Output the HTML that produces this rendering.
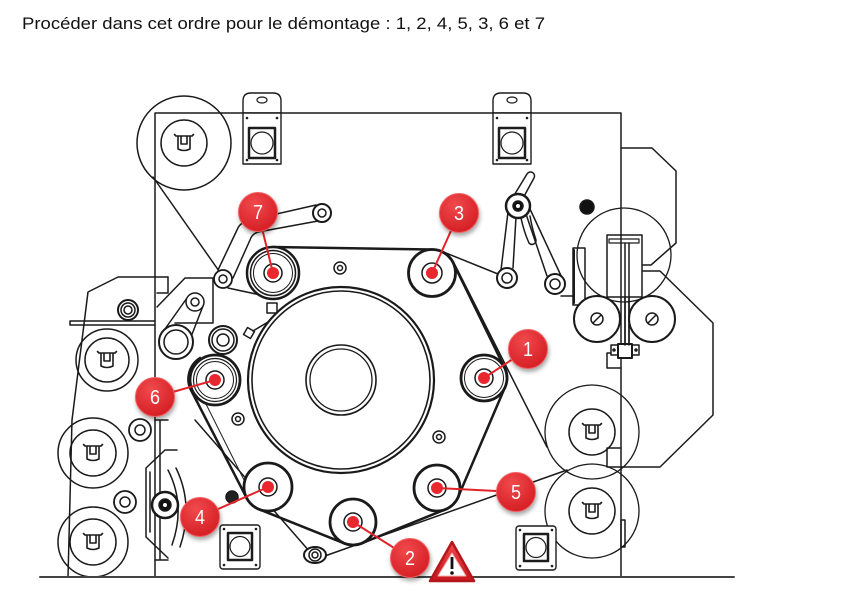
<!DOCTYPE html>
<html><head><meta charset="utf-8">
<style>
html,body{margin:0;padding:0;background:#fff;}
svg{display:block}
</style></head><body>
<svg width="856" height="598" viewBox="0 0 856 598" xmlns="http://www.w3.org/2000/svg">
<defs>
<radialGradient id="rg" cx="40%" cy="30%" r="75%">
 <stop offset="0" stop-color="#f04a4d"/>
 <stop offset="1" stop-color="#d41c22"/>
</radialGradient>
<linearGradient id="tg" x1="0" y1="0" x2="0" y2="1">
 <stop offset="0" stop-color="#f0494b"/>
 <stop offset="1" stop-color="#c8161c"/>
</linearGradient>
<filter id="bl" x="-50%" y="-50%" width="200%" height="200%"><feGaussianBlur stdDeviation="2"/></filter>
<g id="bk" fill="none" stroke="#1c1c1c" stroke-width="1.6">
 <path d="M-8,-7 H8 M-8,-7 l-1.5,-1.5 M8,-7 l1.5,-1.5 M-6,-7 V6 Q0,9 6,6 V-7 M-3,-7 V1 H3 V-7"/>
</g>
<g id="brT" fill="none" stroke="#1c1c1c">
 <path d="M0,20 V8 Q0,0 8,0 H30 Q38,0 38,8 V20" stroke-width="1.4"/>
 <ellipse cx="19" cy="7" rx="5" ry="3" stroke-width="1.2"/>
 <rect x="0" y="20" width="38" height="51" stroke-width="1.4" fill="#fff"/>
 <circle cx="4" cy="25" r="1.3" fill="#1c1c1c" stroke="none"/>
 <circle cx="34" cy="25" r="1.3" fill="#1c1c1c" stroke="none"/>
 <circle cx="4" cy="67" r="1.3" fill="#1c1c1c" stroke="none"/>
 <circle cx="34" cy="67" r="1.3" fill="#1c1c1c" stroke="none"/>
 <rect x="6" y="35" width="26" height="30" stroke-width="2.5"/>
 <circle cx="19" cy="50" r="11" stroke-width="1.2"/>
</g>
<g id="brB" fill="none" stroke="#1c1c1c">
 <rect x="0" y="0" width="40" height="44" rx="3" stroke-width="1.4" fill="#fff"/>
 <circle cx="4" cy="4" r="1.3" fill="#1c1c1c" stroke="none"/>
 <circle cx="36" cy="4" r="1.3" fill="#1c1c1c" stroke="none"/>
 <circle cx="4" cy="40" r="1.3" fill="#1c1c1c" stroke="none"/>
 <circle cx="36" cy="40" r="1.3" fill="#1c1c1c" stroke="none"/>
 <rect x="8" y="8" width="24" height="27" stroke-width="2.5"/>
 <circle cx="20" cy="21.5" r="10" stroke-width="1.2"/>
</g>
</defs>

<rect width="856" height="598" fill="#fff"/>

<text x="22" y="29" font-family="Liberation Sans, sans-serif" font-size="17" fill="#111" textLength="523" lengthAdjust="spacingAndGlyphs">Procéder dans cet ordre pour le démontage : 1, 2, 4, 5, 3, 6 et 7</text>

<g fill="none" stroke="#1a1a1a" stroke-width="1.5" stroke-linecap="round" stroke-linejoin="round">
 <!-- frame -->
 <path d="M155,113 H621 M155,113 V577 M621,113 V577"/>

 <!-- top-left spool -->
 <circle cx="184" cy="143" r="47"/>
 <circle cx="184" cy="143" r="23"/>
 <use href="#bk" x="184" y="143"/>

 <!-- top brackets -->
 <use href="#brT" x="243" y="93"/>
 <use href="#brT" x="493" y="93"/>

 <!-- right module -->
 <path d="M621,148 H652 L676,171 V243 L651,265 H643"/>
 <path d="M643,271 H660 L713,323 V415 L660,467 H607 V448 H621"/>
 <path d="M621,353 H607 V368 H621"/>
 <rect x="621" y="520" width="4" height="27"/>
 <circle cx="624" cy="255" r="47" stroke-width="1.3"/>

 <!-- T bar -->
 <rect x="607" y="235" width="35" height="62"/>
 <rect x="609" y="239" width="30" height="4" stroke-width="1.2"/>
 <path d="M625,243 V345 M629,243 V345"/>
 <rect x="611" y="345" width="28" height="10" fill="#fff"/>
 <rect x="618" y="344" width="14" height="14" stroke-width="2" fill="#fff"/>
 <circle cx="614" cy="350" r="1" fill="#1c1c1c"/>
 <circle cx="636" cy="350" r="1" fill="#1c1c1c"/>

 <!-- plate -->
 <rect x="573" y="248" width="12" height="57"/>
 <path d="M574,250 V303" stroke-width="2"/>

 <!-- right rollers -->
 <circle cx="597" cy="319" r="23" stroke-width="2" fill="#fff"/>
 <circle cx="652" cy="319" r="23" stroke-width="2" fill="#fff"/>
 <path d="M625,297 V345 M629,297 V345"/>
 <circle cx="597" cy="319" r="6"/>
 <path d="M593,323 L601,315"/>
 <circle cx="652" cy="319" r="6"/>
 <path d="M648,323 L656,315"/>

 <!-- black dot -->
 <circle cx="587" cy="207" r="7" fill="#111"/>

 <!-- right arm -->
 <path d="M513,197 L527,174 A4,4 0 0 1 534,178 L522,200"/>
 <path d="M521,218 Q524,232 529,243 A4,4 0 0 0 536,240 Q532,228 530,216"/>
 <path d="M508,212 L501,270 M516,217 L513,268 M526,214 L547,276 M530,209 L563,280"/>
 <circle cx="518" cy="206" r="12" stroke-width="2.5" fill="#fff"/>
 <circle cx="518" cy="206" r="5" fill="#111"/>
 <circle cx="518" cy="206" r="2" fill="#fff" stroke="none"/>
 <circle cx="507" cy="278" r="10" stroke-width="2" fill="#fff"/>
 <circle cx="507" cy="278" r="5"/>
 <circle cx="555" cy="284" r="10" stroke-width="2" fill="#fff"/>
 <circle cx="555" cy="284" r="5"/>
 <path d="M561,296 H573"/>

 <!-- thin lines -->
 <path d="M441,251 L498,274"/>
 <path d="M455,265 L547,447"/>
 <path d="M153,177 L219,271"/>
 <path d="M228,288 L279,299"/>
 <path d="M195,420 L310,552"/>
 <path d="M322,557 L567,470"/>

 <!-- right lower spools -->
 <circle cx="592" cy="432" r="47" stroke-width="1.3"/>
 <circle cx="592" cy="432" r="23"/>
 <use href="#bk" x="592" y="432"/>
 <circle cx="592" cy="511" r="47" stroke-width="1.3"/>
 <circle cx="592" cy="511" r="23"/>
 <use href="#bk" x="592" y="511"/>

 <!-- bottom brackets -->
 <use href="#brB" x="220" y="525"/>
 <use href="#brB" x="516" y="526"/>

 <!-- drum -->
 <circle cx="341" cy="380" r="93" stroke-width="2.2"/>
 <circle cx="341" cy="380" r="89" stroke-width="1.6"/>
 <circle cx="341" cy="380" r="35" stroke-width="1.6"/>
 <circle cx="341" cy="380" r="31" stroke-width="1.3"/>

 <!-- bolts -->
 <circle cx="340" cy="268" r="6"/><circle cx="340" cy="268" r="2.5"/>
 <circle cx="238" cy="419" r="6"/><circle cx="238" cy="419" r="2.5"/>
 <circle cx="439" cy="437" r="6"/><circle cx="439" cy="437" r="2.5"/>
 <rect x="267" y="303" width="10" height="10"/>
 <rect x="245" y="329" width="8" height="8" transform="rotate(30 249 333)"/>
 <path d="M253,331 L268,322"/>

 <!-- belt -->
 <path d="M273,247 L432,249.5 A23.5,23.5 0 0 1 453.1,262.6 L504.6,367.8 A23,23 0 0 1 505.1,387 L458.1,497 A23,23 0 0 1 445.6,509.3 L361.6,543.3 A23,23 0 0 1 344.2,543.3 L258.9,509.2 A24,24 0 0 1 246.5,497.7 L192,392 A25,25 0 0 1 200,358" stroke-width="2.5"/>
 <path d="M198,388 L251,494" stroke-width="1"/>

 <!-- left module -->
 <path d="M168,277 H118 L88,292 L72,420 L68,577"/>
 <path d="M168,277 V293 H157"/>
 <path d="M70,321 H155 M70,325 H155 M70,321 V325"/>
 <path d="M160,420 V560 M155,420 H168 M155,560 H168"/>
 <circle cx="107" cy="360" r="31"/>
 <circle cx="107" cy="360" r="22"/>
 <use href="#bk" x="107" y="360"/>
 <circle cx="93" cy="453" r="35"/>
 <circle cx="93" cy="453" r="23"/>
 <use href="#bk" x="93" y="453"/>
 <circle cx="93" cy="542" r="35"/>
 <circle cx="93" cy="542" r="23"/>
 <use href="#bk" x="93" y="542"/>
 <circle cx="128" cy="310" r="10" stroke-width="2" fill="#fff"/>
 <circle cx="128" cy="310" r="7"/>
 <circle cx="128" cy="310" r="4"/>
 <circle cx="140" cy="430" r="11" stroke-width="1.8" fill="#fff"/>
 <circle cx="140" cy="430" r="5"/>
 <circle cx="125" cy="502" r="11" stroke-width="1.8" fill="#fff"/>
 <circle cx="125" cy="502" r="5"/>

 <!-- lower-left plate and roller -->
 <path d="M177,450 H165 L146,468 V537 L168,558"/>
 <path d="M150,472 V532"/>
 <path d="M168,470 Q186,505 172,545 M176,468 Q194,505 180,547"/>
 <circle cx="165" cy="505" r="13" stroke-width="2.5" fill="#fff"/>
 <circle cx="165" cy="505" r="6" fill="#111"/>
 <circle cx="165" cy="505" r="2" fill="#fff" stroke="none"/>
 <circle cx="232" cy="497" r="6" fill="#222"/>

 <!-- upper-left bracket -->
 <path d="M213,278 H185 L157,307"/>
 <path d="M213,278 V323 H175"/>
 <path d="M187,298 L160,336 M203,306 L189,342"/>
 <circle cx="195" cy="302" r="9" fill="#fff"/>
 <circle cx="195" cy="302" r="4"/>
 <circle cx="176" cy="342" r="17" stroke-width="2" fill="#fff"/>
 <circle cx="176" cy="342" r="12"/>
 <circle cx="223" cy="340" r="14" stroke-width="2" fill="#fff"/>
 <circle cx="223" cy="340" r="11"/>
 <circle cx="223" cy="340" r="6"/>

 <!-- top-left arm -->
 <path d="M316,205 L250,220 Q240,222 237,230 L218,270"/>
 <path d="M318,221 L258,232 Q252,234 250,240 L233,278"/>
 <circle cx="322" cy="213" r="9" stroke-width="2" fill="#fff"/>
 <circle cx="322" cy="213" r="4"/>
 <circle cx="223" cy="279" r="9" stroke-width="1.8" fill="#fff"/>
 <circle cx="223" cy="279" r="4"/>

 <!-- bottom small roller -->
 <ellipse cx="315" cy="555" rx="11" ry="8" fill="#fff" stroke-width="2"/>
 <circle cx="315" cy="555" r="6"/>
 <circle cx="315" cy="555" r="3"/>

 <!-- rollers -->
 <circle cx="273" cy="273" r="26" stroke-width="2.5" fill="#fff"/>
 <circle cx="273" cy="273" r="22.5" stroke-width="1.5"/>
 <circle cx="273" cy="273" r="19.5" stroke-width="1"/>
 <circle cx="273" cy="273" r="9" stroke-width="1.5"/>

 <circle cx="432" cy="273" r="23.5" stroke-width="2.8" fill="#fff"/>
 <circle cx="432" cy="273" r="10" stroke-width="1.5"/>

 <circle cx="484" cy="378" r="23" stroke-width="2.8" fill="#fff"/>
 <circle cx="484" cy="378" r="19.5" stroke-width="1"/>
 <circle cx="484" cy="378" r="9" stroke-width="1.5"/>

 <circle cx="437" cy="488" r="23" stroke-width="2.8" fill="#fff"/>
 <circle cx="437" cy="488" r="9" stroke-width="1.5"/>

 <circle cx="353" cy="522" r="23" stroke-width="2.8" fill="#fff"/>
 <circle cx="353" cy="522" r="9" stroke-width="1.5"/>

 <circle cx="268" cy="487" r="24" stroke-width="2.8" fill="#fff"/>
 <circle cx="268" cy="487" r="9" stroke-width="1.5"/>

 <circle cx="215" cy="380" r="25" stroke-width="2.8" fill="#fff"/>
 <circle cx="215" cy="380" r="21.5" stroke-width="1.2"/>
 <circle cx="215" cy="380" r="18.5" stroke-width="1"/>
 <circle cx="215" cy="380" r="9" stroke-width="1.5"/>

 <!-- floor -->
 <path d="M40,577 H734" stroke="#444" stroke-width="2"/>
</g>

<!-- connectors -->
<g stroke="#e2232a" stroke-width="2" fill="none">
 <path d="M258,212 L273,273"/>
 <path d="M459,213 L432,273"/>
 <path d="M528,349 L484,378"/>
 <path d="M155,397 L215,380"/>
 <path d="M516,492 L437,488"/>
 <path d="M200,517 L268,487"/>
 <path d="M410,558 L353,522"/>
</g>
<g fill="#e8282e">
 <circle cx="273" cy="273" r="6"/>
 <circle cx="432" cy="273" r="6"/>
 <circle cx="484" cy="378" r="6"/>
 <circle cx="215" cy="380" r="6"/>
 <circle cx="437" cy="488" r="6"/>
 <circle cx="268" cy="487" r="6"/>
 <circle cx="353" cy="522" r="6"/>
</g>

<!-- markers -->
<g fill="rgba(0,0,0,0.35)" filter="url(#bl)">
 <circle cx="259" cy="215" r="20"/>
 <circle cx="460" cy="216" r="20"/>
 <circle cx="529" cy="352" r="20"/>
 <circle cx="156" cy="400" r="20"/>
 <circle cx="517" cy="495" r="20"/>
 <circle cx="201" cy="520" r="20"/>
 <circle cx="411" cy="561" r="20"/>
</g>
<g fill="url(#rg)" stroke="#f36062" stroke-width="1">
 <circle cx="258" cy="212" r="19.5"/>
 <circle cx="459" cy="213" r="19.5"/>
 <circle cx="528" cy="349" r="19.5"/>
 <circle cx="155" cy="397" r="19.5"/>
 <circle cx="516" cy="492" r="19.5"/>
 <circle cx="200" cy="517" r="19.5"/>
 <circle cx="410" cy="558" r="19.5"/>
</g>
<g fill="#fff" font-family="Liberation Sans, sans-serif" font-size="20" text-anchor="middle">
 <text x="258" y="219" textLength="10" lengthAdjust="spacingAndGlyphs">7</text>
 <text x="459" y="220" textLength="10" lengthAdjust="spacingAndGlyphs">3</text>
 <text x="528" y="356" textLength="10" lengthAdjust="spacingAndGlyphs">1</text>
 <text x="155" y="404" textLength="10" lengthAdjust="spacingAndGlyphs">6</text>
 <text x="516" y="499" textLength="10" lengthAdjust="spacingAndGlyphs">5</text>
 <text x="200" y="524" textLength="10" lengthAdjust="spacingAndGlyphs">4</text>
 <text x="410" y="565" textLength="10" lengthAdjust="spacingAndGlyphs">2</text>
</g>

<!-- warning triangle -->
<path d="M452,542 L474,581 H430 Z" fill="url(#tg)" stroke="#b3161c" stroke-width="2.5" stroke-linejoin="round"/>
<path d="M452,553 L466,576 H438 Z" fill="#fff" stroke="#f3b0b0" stroke-width="1" stroke-linejoin="round"/>
<rect x="450.6" y="557" width="2.8" height="12" fill="#111"/>
<circle cx="452" cy="573" r="1.8" fill="#111"/>
</svg>
</body></html>
